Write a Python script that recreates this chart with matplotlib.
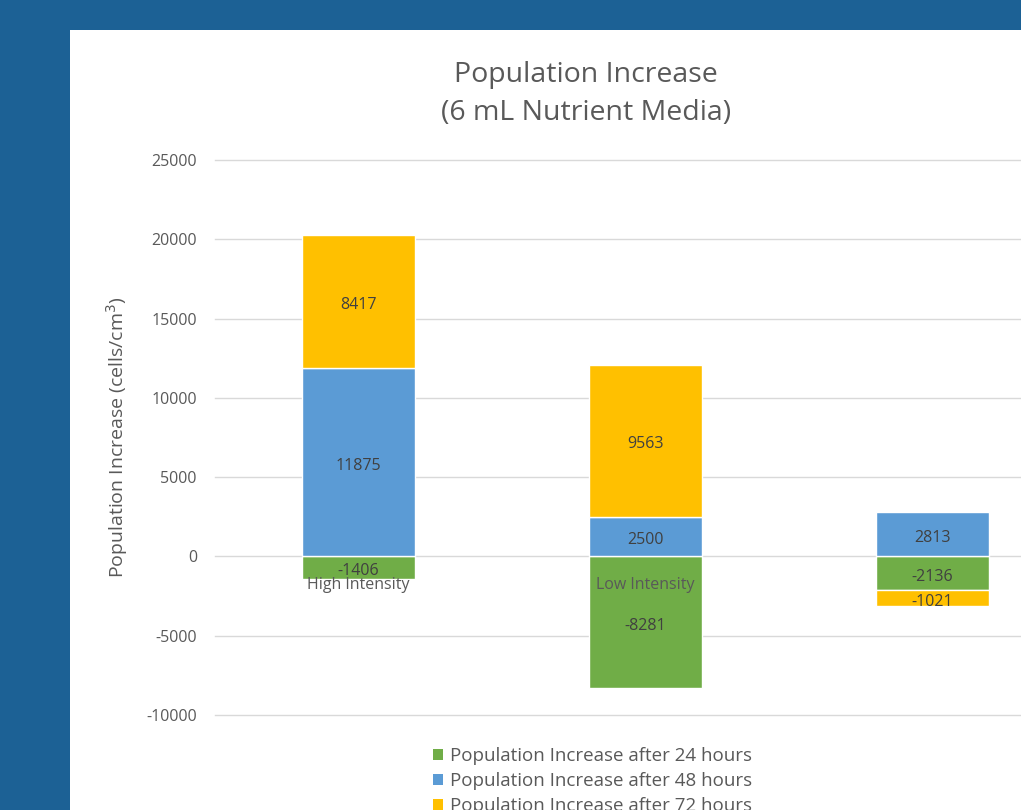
import matplotlib
matplotlib.use("Agg")
import matplotlib.pyplot as plt
from matplotlib.patches import Rectangle
import numpy as np

categories = ["High Intensity", "Low Intensity", ""]
series_names = ["Population Increase after 24 hours",
                "Population Increase after 48 hours",
                "Population Increase after 72 hours"]
inc_24h = [-1406, -8281, -2136]
inc_48h = [11875, 2500, 2813]
inc_72h = [8417, 9563, -1021]
colors = ["#70AD47", "#5B9BD5", "#FFC000"]
yticks = [-10000, -5000, 0, 5000, 10000, 15000, 20000, 25000]

plt.rcParams['font.family'] = ['Open Sans', 'DejaVu Sans']
W, H = 1021, 810
fig = plt.figure(figsize=(W / 100, H / 100), dpi=100, facecolor="#1C6195")
fig.patches.append(Rectangle((70 / W, 0), 1, 1 - 30 / H, transform=fig.transFigure,
                             facecolor="white", edgecolor="none", zorder=-10))

ax = fig.add_axes([215 / W, 1 - 715 / H, 861 / W, (715 - 160) / H])
ax.set_facecolor("none")
x = np.arange(len(categories))
pos_base = np.zeros(len(categories))
neg_base = np.zeros(len(categories))
for vals, col in zip([inc_24h, inc_48h, inc_72h], colors):
    vals = np.array(vals, dtype=float)
    bottoms = np.where(vals >= 0, pos_base, neg_base)
    ax.bar(x, vals, width=0.397, bottom=bottoms, color=col, edgecolor="white",
           linewidth=1.0, zorder=2)
    for xi, b, v in zip(x, bottoms, vals):
        ax.annotate(f"{int(v)}", (xi, b + v / 2), xytext=(0, -2.5),
                    textcoords="offset points", ha="center", va="center",
                    fontsize=11.5, color="#404040", zorder=4)
    pos_base = pos_base + np.where(vals >= 0, vals, 0)
    neg_base = neg_base + np.where(vals < 0, vals, 0)

for xi, c in zip(x, categories):
    ax.annotate(c, (xi, 0), xytext=(0, -15), textcoords="offset points",
                ha="center", va="top", fontsize=11.5, color="#595959", zorder=3)

ax.set_xlim(-0.5, 2.5)
ax.set_ylim(-10000, 25000)
ax.set_yticks(yticks)
ax.set_yticklabels([str(t) for t in yticks], fontsize=11.5, color="#595959")
ax.tick_params(axis="y", length=0, pad=13)
ax.set_xticks([])
ax.yaxis.grid(True, color="#D9D9D9", linewidth=1, zorder=0)
for gl in ax.get_ygridlines():
    gl.set_clip_on(False)
ax.set_axisbelow(True)
for s in ax.spines.values():
    s.set_visible(False)

fig.text(117 / W, 1 - 437 / H, "Population Increase (cells/cm$^3$)", rotation=90,
         ha="center", va="center", fontsize=14, color="#595959")
fig.text(586 / W, 1 - 75 / H, "Population Increase", ha="center", va="center",
         fontsize=20.5, color="#595959")
fig.text(586 / W, 1 - 113 / H, "(6 mL Nutrient Media)", ha="center", va="center",
         fontsize=20.5, color="#595959")

handles = [Rectangle((0, 0), 1, 1, facecolor=c) for c in colors]
fig.legend(handles, series_names, loc="upper left", bbox_to_anchor=(433 / W, 1 - 747 / H),
           frameon=False, fontsize=13.5, labelcolor="#595959", handlelength=0.55,
           handleheight=0.55, handletextpad=0.35, labelspacing=0.38, borderpad=0,
           borderaxespad=0)

fig.savefig("out.png", dpi=100, facecolor=fig.get_facecolor())
